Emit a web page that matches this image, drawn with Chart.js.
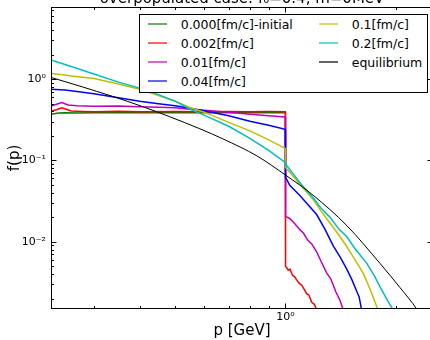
<!DOCTYPE html>
<html><head><meta charset="utf-8">
<script src="https://cdn.jsdelivr.net/npm/chart.js@4/dist/chart.umd.min.js"></script>
<style>
html,body{margin:0;padding:0;background:#fff;}
#wrap{position:relative;width:430px;height:340px;overflow:hidden;background:#fff;}
#c{position:absolute;left:0;top:-12px;}
#legend{position:absolute;left:139px;top:14px;width:289px;height:79px;box-sizing:border-box;border:1px solid #000;background:#fff;font-family:'DejaVu Sans';font-size:12.5px;color:#000;}
.li{position:absolute;height:19px;line-height:19px;white-space:nowrap;}
.sw{position:absolute;top:8.5px;width:19px;height:2px;opacity:0.6;}
</style></head><body>
<div id="wrap"><canvas id="c" width="445" height="352"></canvas><div id="legend"></div></div>
<script>
// ---- data ----
const seriesLabels = ['0.000[fm/c]-initial','0.002[fm/c]','0.01[fm/c]','0.04[fm/c]','0.1[fm/c]','0.2[fm/c]','equilibrium'];

const p_000 = [0.229, 0.24, 0.25, 0.27, 0.3, 0.35, 0.4, 0.5, 0.6, 0.7, 0.8, 0.9, 0.999];
const f_000 = [0.37, 0.383, 0.386, 0.384, 0.387, 0.385, 0.387, 0.385, 0.387, 0.386, 0.387, 0.385, 0.387];

const p_002 = [0.229, 0.237, 0.245, 0.252, 0.26, 0.28, 0.3, 0.35, 0.4, 0.5, 0.6, 0.7, 0.8, 0.9, 0.999, 1.001, 1.018, 1.03, 1.045, 1.06, 1.073, 1.09, 1.11, 1.143, 1.16, 1.18, 1.2, 1.217, 1.23];
const f_002 = [0.405, 0.42, 0.445, 0.425, 0.405, 0.4, 0.398, 0.402, 0.398, 0.4, 0.397, 0.399, 0.398, 0.4, 0.398, 0.0050, 0.0045, 0.0046, 0.0039, 0.0037, 0.0034, 0.0031, 0.0029, 0.0023, 0.0022, 0.0018, 0.0017, 0.00145, 0.0013];

const p_01 = [0.229, 0.237, 0.245, 0.255, 0.27, 0.3, 0.35, 0.4, 0.45, 0.5, 0.55, 0.6, 0.7, 0.8, 0.9, 0.999, 1.001, 1.029, 1.06, 1.095, 1.12, 1.15, 1.18, 1.217, 1.25, 1.296, 1.33, 1.374, 1.41, 1.439, 1.46];
const f_01 = [0.468, 0.49, 0.516, 0.48, 0.47, 0.464, 0.466, 0.458, 0.451, 0.445, 0.426, 0.414, 0.391, 0.37, 0.354, 0.343, 0.0205, 0.0192, 0.0168, 0.0141, 0.0128, 0.0105, 0.0094, 0.00753, 0.0058, 0.00414, 0.0035, 0.00241, 0.0019, 0.00145, 0.0012];

const p_04 = [0.229, 0.25, 0.26, 0.3, 0.35, 0.4, 0.45, 0.5, 0.55, 0.6, 0.7, 0.8, 0.9, 0.999, 1.001, 1.029, 1.06, 1.095, 1.15, 1.217, 1.28, 1.351, 1.41, 1.47, 1.52, 1.565, 1.59, 1.615, 1.64];
const f_04 = [0.752, 0.735, 0.721, 0.662, 0.591, 0.535, 0.499, 0.471, 0.438, 0.408, 0.354, 0.303, 0.270, 0.241, 0.0617, 0.0491, 0.043, 0.037, 0.029, 0.0216, 0.0145, 0.0089, 0.0065, 0.00464, 0.0034, 0.00248, 0.0021, 0.00145, 0.0012];

const p_1 = [0.229, 0.25, 0.26, 0.3, 0.35, 0.4, 0.45, 0.5, 0.55, 0.6, 0.7, 0.8, 0.9, 0.999, 1.001, 1.1, 1.191, 1.25, 1.323, 1.4, 1.47, 1.55, 1.631, 1.71, 1.79, 1.82];
const f_1 = [1.176, 1.12, 1.089, 1.014, 0.868, 0.752, 0.626, 0.535, 0.445, 0.392, 0.294, 0.231, 0.179, 0.1406, 0.082, 0.050, 0.033, 0.024, 0.0170, 0.0121, 0.00875, 0.0060, 0.00411, 0.0025, 0.00145, 0.0012];

const p_2 = [0.229, 0.25, 0.26, 0.3, 0.35, 0.4, 0.45, 0.5, 0.55, 0.6, 0.7, 0.8, 0.9, 0.999, 1.003, 1.1, 1.191, 1.25, 1.323, 1.4, 1.47, 1.55, 1.667, 1.75, 1.812, 1.9, 1.97, 2.0];
const f_2 = [1.717, 1.51, 1.427, 1.153, 0.918, 0.774, 0.644, 0.535, 0.426, 0.360, 0.263, 0.187, 0.133, 0.0945, 0.0893, 0.052, 0.0347, 0.026, 0.0201, 0.0143, 0.0116, 0.0082, 0.00546, 0.0038, 0.00281, 0.0019, 0.00145, 0.0012];

const p_eq = [0.229, 0.2745, 0.338, 0.408, 0.4836, 0.584, 0.675, 0.836, 1.0, 1.189, 1.472, 1.812, 2.055, 2.288, 2.35];
const f_eq = [1.049, 0.820, 0.611, 0.458, 0.344, 0.245, 0.184, 0.1137, 0.0662, 0.0375, 0.01577, 0.00543, 0.00274, 0.00147, 0.0012];

const xTickValues = [1];
const yTickValues = [0.01, 0.1, 1];
const xRange = [0.229, 2.53];
const yRange = [0.00149, 7.7];

// ---- styles ----
const seriesColors = ['#008000','#ff0000','#bf00bf','#0000ff','#bfbf00','#00bfbf','#000000'];
const P = [p_000, p_002, p_01, p_04, p_1, p_2, p_eq];
const F = [f_000, f_002, f_01, f_04, f_1, f_2, f_eq];

const supMap = {'0':'⁰','1':'¹','2':'²','3':'³','4':'⁴','5':'⁵','6':'⁶','7':'⁷','8':'⁸','9':'⁹','-':'⁻'};
function powLabel(v){
  const e = Math.log10(v);
  if (Math.abs(e - Math.round(e)) > 1e-6) return '';
  return '10' + String(Math.round(e)).split('').map(c=>supMap[c]).join('');
}

const datasets = seriesLabels.map((lab,i)=>({
  label: lab,
  data: P[i].map((p,j)=>({x:p, y:F[i][j]})),
  borderColor: seriesColors[i],
  backgroundColor: seriesColors[i],
  borderWidth: i===6 ? 1 : 1.5,
  pointRadius: 0,
  fill: false,
  tension: 0,
  cubicInterpolationMode: i===6 ? 'monotone' : 'default',
  order: 6 - i,
  clip: 0
}));

const frame = {
  id: 'frame',
  afterDraw(chart){
    const {ctx, chartArea:a} = chart;
    const xs = chart.scales.x, ys = chart.scales.y;
    const L = Math.round(a.left)+0.5, R = Math.round(a.right)-0.5, T = Math.round(a.top)+0.5, B = Math.round(a.bottom)-0.5;
    const marks = (s)=>{const out=[]; for(let d=Math.floor(Math.log10(s.min)); d<=Math.ceil(Math.log10(s.max)); d++){for(let k=1;k<=9;k++){const v=k*Math.pow(10,d); if(v>s.min && v<s.max) out.push({v, major:k===1});}} return out;};
    ctx.save();
    ctx.strokeStyle = '#000'; ctx.lineWidth = 1;
    ctx.beginPath();
    for (const t of marks(xs)) { const px = Math.round(xs.getPixelForValue(t.v))+0.5; const len = t.major?5:2.5; ctx.moveTo(px,B); ctx.lineTo(px,B-len); ctx.moveTo(px,T); ctx.lineTo(px,T+len); }
    for (const t of marks(ys)) { const py = Math.round(ys.getPixelForValue(t.v))+0.5; const len = t.major?5:2.5; ctx.moveTo(L,py); ctx.lineTo(L+len,py); ctx.moveTo(R,py); ctx.lineTo(R-len,py); }
    ctx.stroke();
    ctx.strokeRect(L, T, R-L, B-T);
    ctx.restore();
  }
};

Chart.defaults.font.family = 'DejaVu Sans';
Chart.defaults.color = '#000';

const chart = new Chart(document.getElementById('c'), {
  type: 'line',
  data: { datasets },
  plugins: [frame],
  options: {
    responsive: false,
    animation: false,
    events: [],
    layout: { padding: { left: 0, right: 12, top: 0, bottom: 0 } },
    plugins: {
      legend: { display: false },
      tooltip: { enabled: false },
      title: {
        display: true,
        text: 'overpopulated case: f₀=0.4, m=0MeV',
        fullSize: false,
        font: { size: 15, weight: 'normal', lineHeight: 1.0 },
        color: '#000',
        padding: { top: 4, bottom: 0 }
      }
    },
    scales: {
      x: {
        type: 'logarithmic',
        min: xRange[0], max: xRange[1],
        afterFit: s => { s.height = 31; },
        afterBuildTicks: s => { s.ticks = xTickValues.map(v=>({value:v})); },
        grid: { display: false, drawTicks: false },
        border: { display: false },
        ticks: { autoSkip: false, maxRotation: 0, padding: 2, font: { size: 11 }, color: '#000', callback: v => powLabel(v) },
        title: { display: true, text: 'p [GeV]', font: { size: 15 }, color: '#000', padding: { top: 0, bottom: 0 } }
      },
      y: {
        type: 'logarithmic',
        min: yRange[0], max: yRange[1],
        afterFit: s => { s.width = 51; },
        afterBuildTicks: s => { s.ticks = yTickValues.map(v=>({value:v})); },
        grid: { display: false, drawTicks: false },
        border: { display: false },
        ticks: { autoSkip: false, padding: 5, font: { size: 11 }, color: '#000', callback: v => powLabel(v) },
        title: { display: true, text: 'f(p)', font: { size: 15 }, color: '#000', padding: { top: 6, bottom: 0 } }
      }
    }
  }
});

// HTML legend built from the chart's datasets (2 columns: 4 + 3)
const leg = document.getElementById('legend');
chart.data.datasets.forEach((ds,i)=>{
  const col = i < 4 ? 0 : 1, row = i < 4 ? i : i - 4;
  const item = document.createElement('div');
  item.className = 'li';
  item.style.top = (-0.5 + 19*row) + 'px';
  item.style.left = (col===0 ? 8 : 179) + 'px';
  const sw = document.createElement('span');
  sw.className = 'sw'; sw.style.left = '0px'; sw.style.background = ds.borderColor;
  const tx = document.createElement('span');
  tx.style.position = 'absolute'; tx.style.left = '32.7px'; tx.textContent = ds.label;
  item.appendChild(sw); item.appendChild(tx);
  leg.appendChild(item);
});
</script>
</body></html>
